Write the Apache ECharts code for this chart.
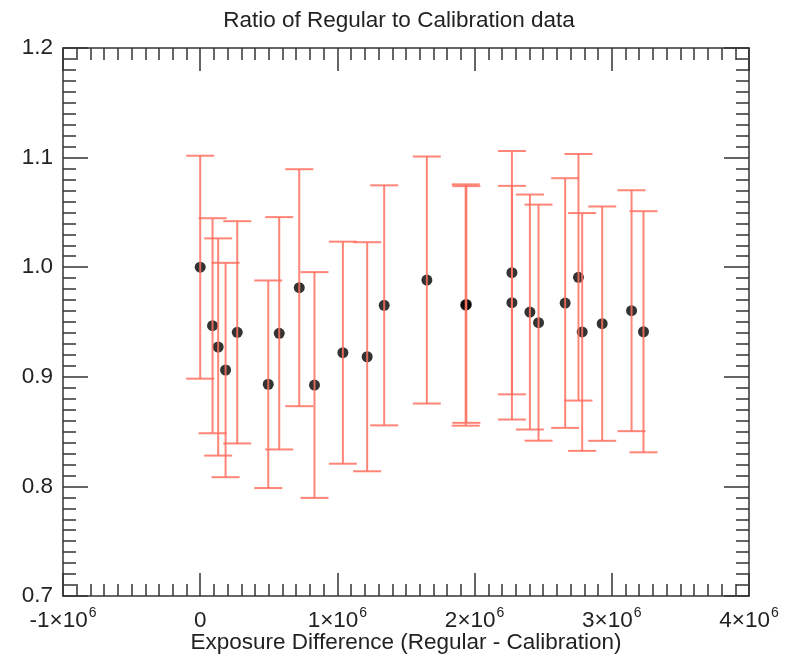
<!DOCTYPE html>
<html>
<head>
<meta charset="utf-8">
<script src="https://cdn.jsdelivr.net/npm/echarts@6/dist/echarts.min.js"></script>
<style>html,body{margin:0;padding:0;background:#fff}#c{width:798px;height:656px}</style>
</head>
<body>
<div id="c"></div>
<script>
// Exposure difference (Regular - Calibration)
const xs = [0, 0.09e6, 0.131e6, 0.185e6, 0.27e6, 0.496e6, 0.576e6, 0.722e6, 0.833e6, 1.04e6, 1.217e6, 1.341e6, 1.652e6,
  1.935e6, 1.94e6, 2.272e6, 2.272e6, 2.403e6, 2.466e6, 2.66e6, 2.757e6, 2.784e6, 2.93e6, 3.144e6, 3.231e6];
// Ratio of Regular to Calibration
const ys = [1.000, 0.9466, 0.9272, 0.9062, 0.9406, 0.8932, 0.9397, 0.9813, 0.8925, 0.922, 0.9183, 0.9652, 0.9883,
  0.9655, 0.9660, 0.995, 0.9676, 0.9591, 0.9494, 0.9673, 0.9908, 0.9409, 0.9485, 0.9603, 0.9411];
// Symmetric error magnitudes
const errs = [0.1017, 0.0981, 0.0991, 0.0978, 0.1014, 0.0947, 0.106, 0.1081, 0.103, 0.1013, 0.1045, 0.1095, 0.1127,
  0.1101, 0.108, 0.111, 0.1066, 0.1072, 0.1077, 0.1139, 0.1125, 0.1085, 0.1069, 0.1099, 0.1100];

const xTicks = [-1e6, 0, 1e6, 2e6, 3e6, 4e6];
const yTicks = [0.7, 0.8, 0.9, 1.0, 1.1, 1.2];

const FONT = 'Liberation Sans, Arial, Helvetica, sans-serif';
const FS = 22.5;
const ERR_COLOR = '#ff7060';
const AX_COLOR = '#333';

const points = xs.map((x, i) => [x, ys[i]]);
const bars = xs.map((x, i) => [x, ys[i] - errs[i], ys[i] + errs[i]]);

function xLabel(v) {
  if (Math.abs(v) < 1) return '{a|0}';
  const m = Math.round(v / 1e6);
  return '{a|' + m + '×10}{s|6}';
}

const axisCommon = {
  axisLine: { show: true, onZero: false, lineStyle: { color: AX_COLOR, width: 1.5 } },
  splitLine: { show: false },
};

const xBase = Object.assign({}, axisCommon, {
  type: 'value', min: xTicks[0], max: xTicks[xTicks.length - 1], interval: 1e6,
  axisTick: { show: true, inside: true, length: 23, lineStyle: { color: AX_COLOR, width: 1.5 } },
  minorTick: { show: true, splitNumber: 10, length: 12, lineStyle: { color: AX_COLOR, width: 1.5 } },
});
const yBase = Object.assign({}, axisCommon, {
  type: 'value', min: yTicks[0], max: yTicks[yTicks.length - 1], interval: 0.1,
  axisTick: { show: true, inside: true, length: 25, lineStyle: { color: AX_COLOR, width: 1.5 } },
  minorTick: { show: true, splitNumber: 10, length: 13, lineStyle: { color: AX_COLOR, width: 1.5 } },
});

const chart = echarts.init(document.getElementById('c'), null, { renderer: 'canvas' });
chart.setOption({
  animation: false,
  backgroundColor: '#fff',
  title: {
    text: 'Ratio of Regular to Calibration data',
    left: 'center', top: 4,
    textStyle: { fontFamily: FONT, fontSize: FS, fontWeight: 'normal', color: '#222' }
  },
  grid: { left: 63, right: 49, top: 48, bottom: 60, containLabel: false, outerBoundsMode: 'none' },
  xAxis: [
    Object.assign({}, xBase, {
      position: 'bottom',
      name: 'Exposure Difference (Regular - Calibration)',
      nameLocation: 'middle', nameGap: 35, nameMoveOverlap: false,
      nameTextStyle: { fontFamily: FONT, fontSize: FS, color: '#222' },
      axisLabel: {
        show: true, margin: 10, formatter: xLabel,
        rich: {
          a: { fontFamily: FONT, fontSize: FS, color: '#222', lineHeight: 26, verticalAlign: 'bottom' },
          s: { fontFamily: FONT, fontSize: 14, color: '#222', lineHeight: 26, verticalAlign: 'top', padding: [0, 0, 0, 1] }
        }
      }
    }),
    Object.assign({}, xBase, { position: 'top', axisLabel: { show: false } })
  ],
  yAxis: [
    Object.assign({}, yBase, {
      position: 'left',
      axisLabel: { show: true, margin: 10, fontFamily: FONT, fontSize: FS, color: '#222',
        formatter: v => v.toFixed(1) }
    }),
    Object.assign({}, yBase, { position: 'right', axisLabel: { show: false } })
  ],
  series: [
    {
      type: 'scatter', xAxisIndex: 0, yAxisIndex: 0, data: points,
      symbol: 'circle', symbolSize: 11, itemStyle: { color: '#000' }, z: 2, silent: true
    },
    {
      type: 'custom', xAxisIndex: 0, yAxisIndex: 0, data: bars, z: 3, silent: true,
      renderItem: function (params, api) {
        const x = api.value(0), lo = api.value(1), hi = api.value(2);
        const pL = api.coord([x, lo]), pH = api.coord([x, hi]);
        const hw = 14;
        const st = { stroke: ERR_COLOR, lineWidth: 2, opacity: 0.85 };
        return {
          type: 'group', children: [
            { type: 'line', shape: { x1: pH[0], y1: pH[1], x2: pL[0], y2: pL[1] }, style: st },
            { type: 'line', shape: { x1: pH[0] - hw, y1: pH[1], x2: pH[0] + hw, y2: pH[1] }, style: st },
            { type: 'line', shape: { x1: pL[0] - hw, y1: pL[1], x2: pL[0] + hw, y2: pL[1] }, style: st }
          ]
        };
      }
    }
  ]
});
</script>
</body>
</html>
